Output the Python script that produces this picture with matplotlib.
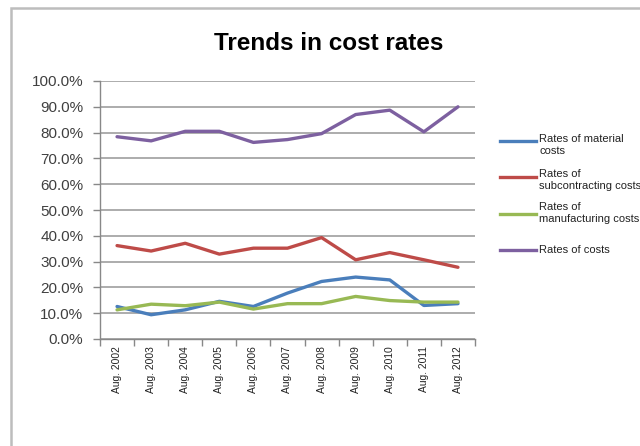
import matplotlib
matplotlib.use("Agg")
import matplotlib.pyplot as plt
from matplotlib.lines import Line2D
from matplotlib.patches import Rectangle
from matplotlib.ticker import FuncFormatter, MultipleLocator

plt.rcParams["font.family"] = ["Liberation Sans", "DejaVu Sans"]

years = ["Aug. 2002", "Aug. 2003", "Aug. 2004", "Aug. 2005", "Aug. 2006", "Aug. 2007",
         "Aug. 2008", "Aug. 2009", "Aug. 2010", "Aug. 2011", "Aug. 2012"]
material = [12.6, 9.4, 11.3, 14.6, 12.6, 17.8, 22.3, 24.0, 22.9, 13.0, 13.7]
subcontracting = [36.2, 34.1, 37.1, 32.9, 35.2, 35.2, 39.3, 30.7, 33.5, 30.7, 27.8]
manufacturing = [11.3, 13.5, 12.9, 14.3, 11.6, 13.7, 13.7, 16.5, 14.9, 14.3, 14.3]
total = [78.4, 76.8, 80.5, 80.5, 76.2, 77.3, 79.6, 87.0, 88.7, 80.3, 90.0]

series = [
    ("Rates of material\ncosts", material, "#4a7ebb"),
    ("Rates of\nsubcontracting costs", subcontracting, "#be4b48"),
    ("Rates of\nmanufacturing costs", manufacturing, "#98b954"),
    ("Rates of costs", total, "#7d60a0"),
]
# legend layout in pixels from the top: (handle y, text-block centre y)
legend_rows = [(141, 145), (177, 180), (214, 213), (250, 250)]

W, H = 640, 446
fig = plt.figure(figsize=(W / 100, H / 100), dpi=100)
# outer chart border (cut off at the right and bottom)
fig.patches.append(Rectangle((11 / W, -0.05), 0.99, 1 - 8 / H + 0.05,
                             transform=fig.transFigure, fill=False,
                             edgecolor="#bdbdbd", linewidth=1.8))

ax = fig.add_axes([100 / W, (H - 339) / H, 375 / W, 258 / H])
x = list(range(len(years)))
for label, vals, col in series:
    ax.plot(x, vals, color=col, linewidth=2.4, label=label, solid_capstyle="round")

ax.set_xlim(-0.5, len(years) - 0.5)
ax.set_ylim(0, 100)
ax.yaxis.set_major_locator(MultipleLocator(10))
ax.yaxis.set_major_formatter(FuncFormatter(lambda v, p: f"{v:.1f}%"))
ax.grid(axis="y", color="#a6a6a6", linewidth=1.3)
ax.set_axisbelow(True)

ax.set_xticks(x)
ax.set_xticklabels(years, rotation=90, fontsize=7.4, color="#222222")
ax.set_xticks([i - 0.5 for i in range(len(years) + 1)], minor=True)
ax.tick_params(axis="x", which="major", length=0, pad=5)
ax.tick_params(axis="x", which="minor", length=5, color="#888888", width=1)
ax.tick_params(axis="y", length=5, color="#888888", width=1, labelsize=11,
               labelcolor="#404040", pad=7)

for side in ("top", "right"):
    ax.spines[side].set_visible(False)
for side in ("left", "bottom"):
    ax.spines[side].set_color("#888888")
    ax.spines[side].set_linewidth(1)

fig.text(329 / W, 1 - 44 / H, "Trends in cost rates", ha="center", va="center",
         fontsize=17.5, fontweight="bold", color="#000000")

# legend drawn by hand so the rows keep the reference's even spacing
for (label, _, col), (hy, ty) in zip(series, legend_rows):
    fig.lines.append(Line2D([500 / W, 536 / W], [1 - hy / H, 1 - hy / H],
                            transform=fig.transFigure, color=col, linewidth=2.4))
    fig.text(539 / W, 1 - ty / H, label, ha="left", va="center", fontsize=8,
             color="#222222", linespacing=1.3)

fig.savefig("out.png", dpi=100)
